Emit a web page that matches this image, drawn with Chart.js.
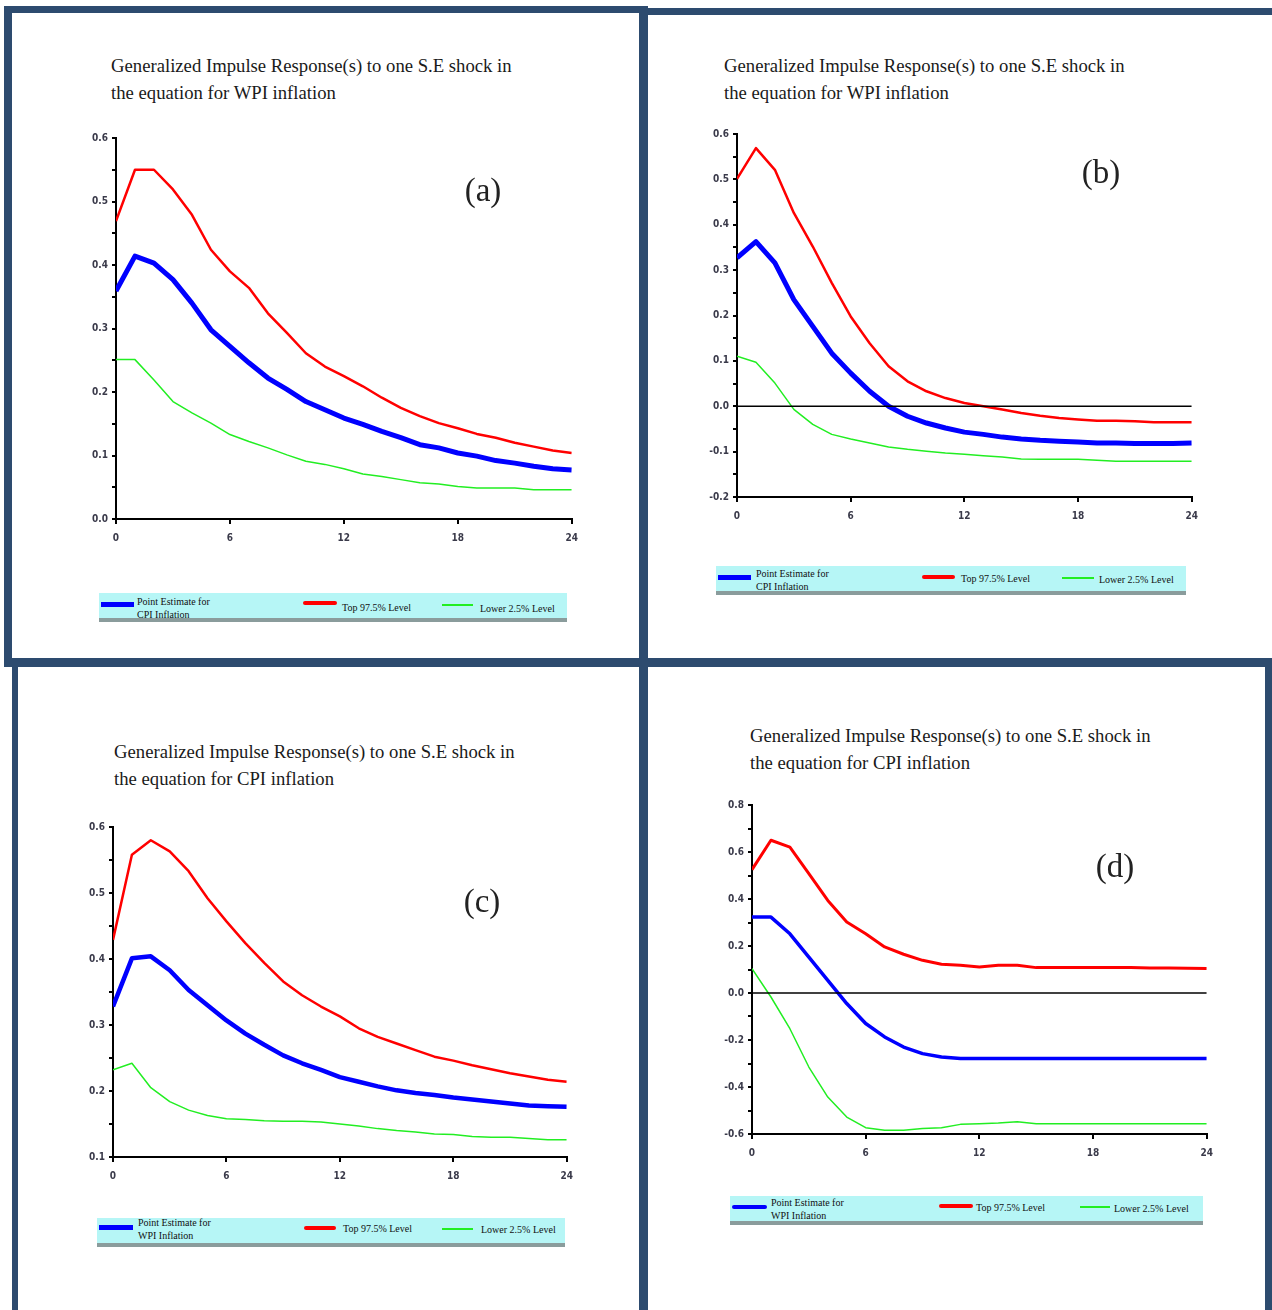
<!DOCTYPE html>
<html>
<head>
<meta charset="utf-8">
<script src="https://cdn.jsdelivr.net/npm/chart.js@4.4.1/dist/chart.umd.min.js"></script>
<style>
  html, body { margin:0; padding:0; background:#fff; }
  body { width:1272px; height:1310px; position:relative; overflow:hidden; font-family:"Liberation Serif", "Times New Roman", serif; }
  .bar { position:absolute; background:#2d4b6f; }
  .title { position:absolute; font-size:18.7px; line-height:27px; color:#1a1a1a; white-space:nowrap; }
  .tag { position:absolute; font-size:33px; color:#222; transform:translate(-50%,-50%); }
  .cv { position:absolute; }
  .legend { position:absolute; background:#b6f6f6; border-bottom:4px solid #8a9c9c; height:25px; }
  .legend .sw { position:absolute; height:5px; }
  .legend .tx { position:absolute; font-size:10px; line-height:13px; color:#111; white-space:nowrap; }
</style>
</head>
<body>
<div class="bar" style="left:4px;top:6px;width:640px;height:7px;"></div>
<div class="bar" style="left:645px;top:8px;width:627px;height:7px;"></div>
<div class="bar" style="left:4px;top:6px;width:8px;height:661px;"></div>
<div class="bar" style="left:639px;top:6px;width:9px;height:1304px;"></div>
<div class="bar" style="left:4px;top:658px;width:1268px;height:9px;"></div>
<div class="bar" style="left:12px;top:665px;width:6px;height:645px;"></div>
<div class="bar" style="left:1265px;top:660px;width:7px;height:650px;"></div>

<div class="title" style="left:111px;top:52px;">Generalized Impulse Response(s) to one S.E shock in<br>the equation for WPI inflation</div>
<div class="title" style="left:724px;top:52px;">Generalized Impulse Response(s) to one S.E shock in<br>the equation for WPI inflation</div>
<div class="title" style="left:114px;top:738px;">Generalized Impulse Response(s) to one S.E shock in<br>the equation for CPI inflation</div>
<div class="title" style="left:750px;top:722px;">Generalized Impulse Response(s) to one S.E shock in<br>the equation for CPI inflation</div>

<canvas id="ca" class="cv" style="left:76px;top:126px;" width="510" height="428"></canvas>
<canvas id="cb" class="cv" style="left:697px;top:122px;" width="509" height="410"></canvas>
<canvas id="cc" class="cv" style="left:73px;top:815px;" width="508" height="377"></canvas>
<canvas id="cd" class="cv" style="left:712px;top:793px;" width="509" height="376"></canvas>

<div class="tag" style="left:483px;top:190px;">(a)</div>
<div class="tag" style="left:1101px;top:172px;">(b)</div>
<div class="tag" style="left:482px;top:901px;">(c)</div>
<div class="tag" style="left:1115px;top:866px;">(d)</div>

<div class="legend" style="left:99px;top:593px;width:468px;">
  <div class="sw" style="left:2px;top:9px;width:33px;background:#0000ff;"></div>
  <div class="tx" style="left:38px;top:2px;">Point Estimate for<br>CPI Inflation</div>
  <div class="sw" style="left:204px;top:8px;width:34px;height:4px;border-radius:3px;background:#ff0000;"></div>
  <div class="tx" style="left:243px;top:8px;">Top 97.5% Level</div>
  <div class="sw" style="left:343px;top:11px;width:31px;height:2px;background:#22ee22;"></div>
  <div class="tx" style="left:381px;top:9px;">Lower 2.5% Level</div>
</div>
<div class="legend" style="left:716px;top:566px;width:470px;">
  <div class="sw" style="left:2px;top:9px;width:33px;background:#0000ff;"></div>
  <div class="tx" style="left:40px;top:1px;">Point Estimate for<br>CPI Inflation</div>
  <div class="sw" style="left:206px;top:9px;width:33px;height:4px;border-radius:3px;background:#ff0000;"></div>
  <div class="tx" style="left:245px;top:6px;">Top 97.5% Level</div>
  <div class="sw" style="left:346px;top:11px;width:32px;height:2px;background:#22ee22;"></div>
  <div class="tx" style="left:383px;top:7px;">Lower 2.5% Level</div>
</div>
<div class="legend" style="left:97px;top:1218px;width:468px;">
  <div class="sw" style="left:2px;top:7px;width:34px;background:#0000ff;"></div>
  <div class="tx" style="left:41px;top:-2px;">Point Estimate for<br>WPI Inflation</div>
  <div class="sw" style="left:207px;top:8px;width:32px;height:4px;border-radius:3px;background:#ff0000;"></div>
  <div class="tx" style="left:246px;top:4px;">Top 97.5% Level</div>
  <div class="sw" style="left:345px;top:10px;width:31px;height:2px;background:#22ee22;"></div>
  <div class="tx" style="left:384px;top:5px;">Lower 2.5% Level</div>
</div>
<div class="legend" style="left:730px;top:1196px;width:473px;">
  <div class="sw" style="left:2px;top:9px;width:35px;height:4px;border-radius:3px;background:#0000ff;"></div>
  <div class="tx" style="left:41px;top:0px;">Point Estimate for<br>WPI Inflation</div>
  <div class="sw" style="left:209px;top:8px;width:34px;height:4px;border-radius:3px;background:#ff0000;"></div>
  <div class="tx" style="left:246px;top:5px;">Top 97.5% Level</div>
  <div class="sw" style="left:350px;top:10px;width:30px;height:2px;background:#22ee22;"></div>
  <div class="tx" style="left:384px;top:6px;">Lower 2.5% Level</div>
</div>

<script>
// ---------- DATA ----------
const horizons = [0,1,2,3,4,5,6,7,8,9,10,11,12,13,14,15,16,17,18,19,20,21,22,23,24];
const xTickValues = [0, 6, 12, 18, 24];

// (a) CPI response to WPI shock
const aPoint = [0.359,0.414,0.403,0.377,0.340,0.298,0.272,0.246,0.222,0.204,0.185,0.172,0.159,0.149,0.138,0.128,0.117,0.112,0.104,0.099,0.092,0.088,0.083,0.079,0.077];
const aTop   = [0.469,0.550,0.550,0.519,0.479,0.424,0.390,0.364,0.324,0.293,0.261,0.240,0.225,0.209,0.191,0.175,0.162,0.151,0.143,0.134,0.128,0.120,0.114,0.108,0.104];
const aLower = [0.251,0.251,0.219,0.185,0.167,0.151,0.133,0.122,0.112,0.101,0.091,0.086,0.079,0.071,0.067,0.062,0.057,0.055,0.051,0.049,0.049,0.049,0.046,0.046,0.046];

// (b)
const bPoint = [0.327,0.363,0.316,0.235,0.176,0.117,0.073,0.033,0.000,-0.022,-0.037,-0.048,-0.057,-0.062,-0.068,-0.072,-0.075,-0.077,-0.079,-0.081,-0.081,-0.082,-0.082,-0.082,-0.081];
const bTop   = [0.501,0.569,0.521,0.426,0.352,0.272,0.198,0.139,0.088,0.055,0.033,0.018,0.007,0.000,-0.007,-0.015,-0.021,-0.026,-0.029,-0.032,-0.032,-0.033,-0.035,-0.035,-0.035];
const bLower = [0.110,0.097,0.051,-0.007,-0.040,-0.062,-0.072,-0.081,-0.090,-0.095,-0.099,-0.103,-0.106,-0.109,-0.112,-0.116,-0.117,-0.117,-0.117,-0.119,-0.121,-0.121,-0.121,-0.121,-0.121];

// (c) WPI response to CPI shock
const cPoint = [0.328,0.401,0.404,0.383,0.353,0.330,0.307,0.287,0.270,0.254,0.242,0.232,0.221,0.214,0.207,0.201,0.197,0.194,0.190,0.187,0.184,0.181,0.178,0.177,0.176];
const cTop   = [0.429,0.558,0.580,0.563,0.533,0.492,0.457,0.424,0.394,0.366,0.345,0.328,0.313,0.295,0.282,0.272,0.262,0.252,0.246,0.239,0.233,0.227,0.222,0.217,0.214];
const cLower = [0.232,0.242,0.205,0.184,0.171,0.163,0.158,0.157,0.155,0.154,0.154,0.153,0.150,0.147,0.143,0.140,0.138,0.135,0.134,0.131,0.130,0.130,0.128,0.126,0.126];

// (d)
const dPoint = [0.323,0.323,0.252,0.153,0.054,-0.045,-0.130,-0.187,-0.230,-0.258,-0.272,-0.279,-0.279,-0.279,-0.279,-0.279,-0.279,-0.279,-0.279,-0.279,-0.279,-0.279,-0.279,-0.279,-0.279];
const dTop   = [0.525,0.650,0.621,0.508,0.394,0.302,0.252,0.196,0.165,0.139,0.122,0.118,0.111,0.118,0.118,0.108,0.108,0.108,0.108,0.108,0.108,0.106,0.106,0.105,0.104];
const dLower = [0.104,-0.017,-0.152,-0.315,-0.443,-0.528,-0.573,-0.584,-0.584,-0.577,-0.573,-0.559,-0.556,-0.553,-0.548,-0.556,-0.556,-0.556,-0.556,-0.556,-0.556,-0.556,-0.556,-0.556,-0.556];

const zeroLine = [0, 0];

// ---------- CHARTS ----------
function pts(vals) { return horizons.map((h, i) => ({ x: h, y: vals[i] })); }

function makeChart(id, point, top, lower, yMin, yMax, yStep, labelEvery, showZero, widths) {
  const datasets = [
    { data: pts(lower), borderColor: '#22ee22', borderWidth: widths[2] },
    { data: pts(top),   borderColor: '#ff0000', borderWidth: widths[1] },
    { data: pts(point), borderColor: '#0000ff', borderWidth: widths[0] }
  ];
  if (showZero) {
    datasets.unshift({ data: [{ x: horizons[0], y: zeroLine[0] }, { x: horizons[horizons.length - 1], y: zeroLine[1] }], borderColor: '#000', borderWidth: 1.5 });
  }
  datasets.forEach(d => { d.pointRadius = 0; d.tension = 0; d.fill = false; d.borderCapStyle = 'butt'; d.borderJoinStyle = 'round'; });
  const tickFont = { family: '"Liberation Sans Narrow", "DejaVu Sans Condensed", sans-serif', size: 10, weight: 'bold' };
  new Chart(document.getElementById(id), {
    type: 'line',
    data: { datasets },
    options: {
      responsive: false,
      animation: false,
      events: [],
      layout: { padding: { top: 12, right: 9, left: 0, bottom: 0 } },
      plugins: { legend: { display: false }, tooltip: { enabled: false } },
      scales: {
        x: {
          type: 'linear', min: 0, max: 24,
          afterBuildTicks: s => { s.ticks = xTickValues.map(v => ({ value: v })); },
          afterFit: s => { s.height = 35; },
          ticks: { color: '#3a3a4a', font: tickFont, padding: 8, maxRotation: 0, callback: v => String(v) },
          grid: { display: true, drawOnChartArea: false, drawTicks: true, tickLength: 5, color: '#000', lineWidth: 2 },
          border: { display: true, color: '#000', width: 2 }
        },
        y: {
          type: 'linear', min: yMin, max: yMax,
          ticks: {
            stepSize: yStep, color: '#3a3a4a', font: tickFont, padding: 4, autoSkip: false,
            callback: v => {
              const r = Math.round(v / yStep);
              return (r % labelEvery === 0) ? (Math.round(v * 100) / 100).toFixed(1) : '';
            }
          },
          afterFit: s => { s.width = 40; },
          grid: { display: true, drawOnChartArea: false, drawTicks: true, tickLength: 4, color: '#000', lineWidth: 2 },
          border: { display: true, color: '#000', width: 2 }
        }
      }
    }
  });
}

makeChart('ca', aPoint, aTop, aLower, 0.0, 0.6, 0.05, 2, false, [5, 2.5, 1.5]);
makeChart('cb', bPoint, bTop, bLower, -0.2, 0.6, 0.05, 2, true, [5, 2.5, 1.5]);
makeChart('cc', cPoint, cTop, cLower, 0.1, 0.6, 0.05, 2, false, [4.5, 2.5, 1.5]);
makeChart('cd', dPoint, dTop, dLower, -0.6, 0.8, 0.1, 2, true, [3.5, 3, 1.5]);
</script>
</body>
</html>
